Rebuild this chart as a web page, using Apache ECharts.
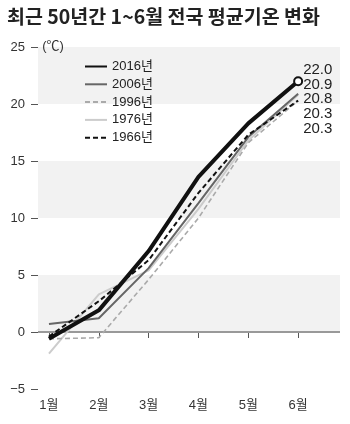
<!DOCTYPE html>
<html><head><meta charset="utf-8">
<script src="https://cdn.jsdelivr.net/npm/echarts@6/dist/echarts.min.js"></script>
<style>html,body{margin:0;padding:0;background:#fff}#c{width:350px;height:424px}</style>
</head><body><div id="c"></div>
<script>
var months = ['1월','2월','3월','4월','5월','6월'];
var seriesNames = ['2016년','2006년','1996년','1976년','1966년'];
var v2016 = [-0.6, 1.9, 7.1, 13.6, 18.3, 22.0];
var v2006 = [0.7, 1.2, 5.6, 11.3, 17.1, 20.9];
var v1996 = [-0.6, -0.5, 4.6, 10.0, 16.6, 20.3];
var v1976 = [-1.9, 3.3, 5.4, 10.8, 16.8, 20.8];
var v1966 = [-0.4, 2.7, 6.3, 12.2, 17.3, 20.3];
var yTicks = [-5, 0, 5, 10, 15, 20, 25];
var titleText = '최근 50년간 1~6월 전국 평균기온 변화';
var unitText = '(℃)';

var FONT = "'Liberation Sans', 'Noto Sans CJK KR', sans-serif";
var allVals = [v2016, v2006, v1996, v1976, v1966];
var styles = [
  {color:'#111', width:4, type:'solid'},
  {color:'#666', width:2, type:'solid'},
  {color:'#aaa', width:1.6, type:[5,3]},
  {color:'#ccc', width:2, type:'solid'},
  {color:'#111', width:2, type:[5,3]}
];
function pts(arr, withEnd){
  return arr.map(function(v,i){
    var d = {value:[i+1, v]};
    if (withEnd && i === arr.length-1) {
      d.symbol = 'circle'; d.symbolSize = 8;
      d.itemStyle = {color:'#fff', borderColor:'#111', borderWidth:2};
    }
    return d;
  });
}
var series = allVals.map(function(arr, k){
  return {
    name: seriesNames[k], type:'line', data: pts(arr, k===0),
    symbol:'none', z: 10 - k + (k===0 ? 5 : 0),
    lineStyle: {color:styles[k].color, width:styles[k].width, type:styles[k].type},
    itemStyle: {color:styles[k].color},
    emphasis:{disabled:true}, animation:false
  };
});
series[4].z = 12;
series[0].markLine = {
  silent:true, symbol:'none', label:{show:false},
  lineStyle:{color:'#999', width:2, type:'solid'},
  data:[{yAxis:0}]
};

var chart = echarts.init(document.getElementById('c'), null, {renderer:'canvas'});
chart.setOption({
  animation:false,
  backgroundColor:'#fff',
  title:{text:titleText, left:7, top:7, padding:0, textStyle:{fontFamily:"'Noto Sans CJK KR', sans-serif", fontSize:19.5, fontWeight:'bold', color:'#222'}},
  legend:{
    orient:'vertical', left:84, top:60, padding:0, itemWidth:22, itemHeight:10, itemGap:4.8,
    itemStyle:{opacity:0},
    textStyle:{fontFamily:FONT, fontSize:13, color:'#222'},
    data: seriesNames
  },
  grid:{left:38, right:10, top:47, bottom:35},
  xAxis:{
    type:'value', min:0.78, max:6.84,
    axisLine:{show:false}, splitLine:{show:false},
    axisTick:{show:true, customValues:[1,2,3,4,5,6], length:6, lineStyle:{color:'#555'}},
    axisLabel:{customValues:[1,2,3,4,5,6], formatter:function(v){return months[Math.round(v)-1];}, fontFamily:FONT, fontSize:13, color:'#333', margin:10}
  },
  yAxis:{
    type:'value', min:yTicks[0], max:yTicks[yTicks.length-1], interval:5,
    axisLine:{show:false},
    axisTick:{show:true, length:7, lineStyle:{color:'#555'}},
    axisLabel:{fontFamily:FONT, fontSize:13, color:'#333', margin:13, formatter:function(v){return v<0 ? '\u2212'+Math.abs(v) : String(v);}},
    splitLine:{show:false},
    splitArea:{show:true, areaStyle:{color:['#ffffff','#f2f2f2']}}
  },
  series: series
});

// end value labels stacked beside the 2016 end point
var last = v2016.length;
var p = chart.convertToPixel({seriesIndex:0}, [last, v2016[last-1]]);
var ends = allVals.map(function(a){return a[a.length-1];}).sort(function(a,b){return b-a;});
var g = ends.map(function(v,i){
  return {type:'text', left:p[0]+5, top:p[1]-11 + i*14.7 - 8,
    style:{text:v.toFixed(1), fontFamily:FONT, fontSize:15, fill:'#222'}};
});
g.push({type:'text', left:p[0]-256, top:40, style:{text:unitText, fontFamily:FONT, fontSize:13, fill:'#333'}});
chart.setOption({graphic:g});
</script></body></html>
